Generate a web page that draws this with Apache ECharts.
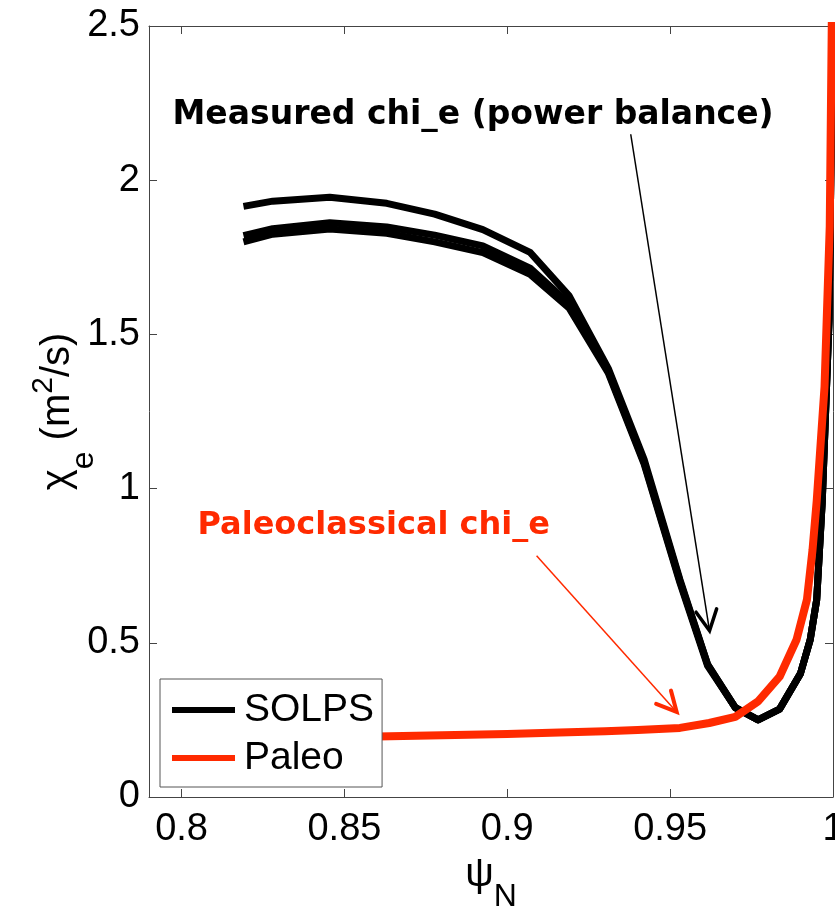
<!DOCTYPE html>
<html><head><meta charset="utf-8">
<script src="https://cdn.jsdelivr.net/npm/echarts@6/dist/echarts.min.js"></script>
<style>html,body{margin:0;padding:0;background:#fff}#c{width:835px;height:912px}</style>
</head><body><div id="c"></div>
<script>
// ---- data ----
const xTicks = [0.8, 0.85, 0.9, 0.95, 1];
const yTicks = [0, 0.5, 1, 1.5, 2, 2.5];
const solpsX = [0.819, 0.828, 0.8455, 0.863, 0.8777, 0.8925, 0.907, 0.919, 0.931, 0.942, 0.953, 0.9615, 0.970, 0.977, 0.9836, 0.990, 0.993, 0.995, 0.9967, 0.9988, 1.0];
const solpsA = [1.915, 1.932, 1.945, 1.925, 1.89, 1.84, 1.766, 1.625, 1.39, 1.095, 0.705, 0.43, 0.29, 0.25, 0.285, 0.40, 0.51, 0.64, 0.96, 1.55, 2.6];
const solpsB = [1.82, 1.843, 1.862, 1.848, 1.822, 1.787, 1.715, 1.60, 1.38, 1.085, 0.70, 0.43, 0.29, 0.25, 0.285, 0.40, 0.51, 0.64, 0.96, 1.55, 2.6];
const solpsC = [1.80, 1.825, 1.842, 1.828, 1.80, 1.765, 1.695, 1.585, 1.375, 1.08, 0.695, 0.425, 0.29, 0.25, 0.285, 0.40, 0.51, 0.64, 0.96, 1.55, 2.6];
const paleoX = [0.82, 0.84, 0.86, 0.88, 0.90, 0.916, 0.93, 0.94, 0.953, 0.962, 0.970, 0.977, 0.9836, 0.9888, 0.992, 0.9937, 0.995, 0.9974, 0.999, 1.0];
const paleoY = [0.19, 0.193, 0.196, 0.200, 0.204, 0.209, 0.213, 0.217, 0.224, 0.24, 0.26, 0.31, 0.39, 0.51, 0.64, 0.80, 0.96, 1.33, 1.85, 2.9];
// annotations: [x1, y1, x2, y2] in data units
const arrowMeasured = [0.9379, 2.149, 0.9621, 0.539];
const arrowPaleo = [0.909, 0.782, 0.952, 0.276];
const textMeasured = {label: 'Measured chi_e (power balance)', x: 0.8895, y: 2.21};
const textPaleo = {label: 'Paleoclassical chi_e', x: 0.859, y: 0.88};

const zip = (xs, ys) => xs.map((x, i) => [x, ys[i]]);
const AX = '#444';
const FONT = "'Liberation Sans', Arial, Helvetica, sans-serif";
const ANN_FONT = "'DejaVu Sans', Verdana, sans-serif";
const RED = '#ff2a00';

const chart = echarts.init(document.getElementById('c'), null, {renderer: 'canvas'});

function lineSeries(name, data, color, width) {
  return {
    name, type: 'line', data, symbol: 'none', showSymbol: false,
    itemStyle: {color}, lineStyle: {color, width, join: 'round'},
    emphasis: {disabled: true}, animation: false, clip: true
  };
}

function arrowRender(color, shaftW, headW, headLen, halfAng) {
  return function (params, api) {
    const p1 = api.coord([api.value(0), api.value(1)]);
    const p2 = api.coord([api.value(2), api.value(3)]);
    const ang = Math.atan2(p1[1] - p2[1], p1[0] - p2[0]);
    const a1 = [p2[0] + headLen * Math.cos(ang + halfAng), p2[1] + headLen * Math.sin(ang + halfAng)];
    const a2 = [p2[0] + headLen * Math.cos(ang - halfAng), p2[1] + headLen * Math.sin(ang - halfAng)];
    return {
      type: 'group',
      children: [
        {type: 'line', shape: {x1: p1[0], y1: p1[1], x2: p2[0], y2: p2[1]}, style: {stroke: color, lineWidth: shaftW}},
        {type: 'polyline', shape: {points: [a1, p2, a2]}, style: {stroke: color, lineWidth: headW, fill: null, lineJoin: 'miter', lineCap: 'round'}}
      ]
    };
  };
}

function textRender(color, size) {
  return function (params, api) {
    const p = api.coord([api.value(0), api.value(1)]);
    return {
      type: 'text',
      style: {text: params.dataIndex === 0 ? api.value(2) : '', x: p[0], y: p[1], fill: color,
        fontSize: size, fontWeight: 'bold', fontFamily: ANN_FONT, align: 'center', verticalAlign: 'middle'}
    };
  };
}

const option = {
  backgroundColor: '#fff',
  animation: false,
  grid: {left: 149, right: 2, top: 26, bottom: 115, containLabel: false, outerBoundsMode: 'none'},
  legend: {
    orient: 'vertical', left: 160, top: 679,
    padding: [9, 8, 7, 12], itemWidth: 63, itemHeight: 6, itemGap: 4,
    backgroundColor: '#fff', borderColor: '#555', borderWidth: 1, borderRadius: 0,
    selectedMode: false,
    textStyle: {fontFamily: FONT, fontSize: 39, color: '#000', lineHeight: 44, padding: [0, 0, 0, 4]},
    data: [
      {name: 'SOLPS', icon: 'rect', itemStyle: {color: '#000'}},
      {name: 'Paleo', icon: 'rect', itemStyle: {color: RED}}
    ]
  },
  xAxis: [{
    type: 'value', min: 0.79, max: 1, position: 'bottom',
    axisLine: {show: true, onZero: false, lineStyle: {color: AX, width: 1}},
    axisTick: {show: true, inside: true, length: 8, customValues: xTicks, lineStyle: {color: AX}},
    axisLabel: {show: true, customValues: xTicks, margin: 14, color: '#000', fontFamily: FONT, fontSize: 38,
      formatter: v => String(+(+v).toFixed(2))},
    splitLine: {show: false},
    name: '{a|ψ}{b|N}', nameLocation: 'middle', nameGap: 58, nameMoveOverlap: false,
    nameTextStyle: {rich: {
      a: {fontFamily: FONT, fontSize: 40, lineHeight: 40, verticalAlign: 'top', color: '#000'},
      b: {fontFamily: FONT, fontSize: 32, lineHeight: 32, padding: [26, 0, 0, 0], verticalAlign: 'top', color: '#000'}
    }}
  }, {
    type: 'value', min: 0.79, max: 1, position: 'top',
    axisLine: {show: true, onZero: false, lineStyle: {color: AX, width: 1}},
    axisTick: {show: true, inside: true, length: 8, customValues: xTicks, lineStyle: {color: AX}},
    axisLabel: {show: false}, splitLine: {show: false}
  }],
  yAxis: [{
    type: 'value', min: 0, max: 2.5, interval: 0.5, position: 'left',
    axisLine: {show: true, onZero: false, lineStyle: {color: AX, width: 1}},
    axisTick: {show: true, inside: true, length: 8, lineStyle: {color: AX}},
    axisLabel: {show: true, margin: 9, color: '#000', fontFamily: FONT, fontSize: 38,
      formatter: v => String(+(+v).toFixed(2))},
    splitLine: {show: false},
    name: '{a|χ}{b|e}{a| (m}{c|2}{a|/s)}', nameLocation: 'middle', nameRotate: 90, nameGap: 72, nameMoveOverlap: false,
    nameTextStyle: {rich: {
      a: {fontFamily: FONT, fontSize: 40, lineHeight: 48, padding: [9, 0, 0, 0], verticalAlign: 'top', color: '#000'},
      b: {fontFamily: FONT, fontSize: 32, lineHeight: 32, padding: [39, 0, 0, 0], verticalAlign: 'top', color: '#000'},
      c: {fontFamily: FONT, fontSize: 30, lineHeight: 30, padding: [0, 0, 0, 0], verticalAlign: 'top', color: '#000'}
    }}
  }, {
    type: 'value', min: 0, max: 2.5, interval: 0.5, position: 'right',
    axisLine: {show: true, onZero: false, lineStyle: {color: AX, width: 1}},
    axisTick: {show: true, inside: true, length: 8, lineStyle: {color: AX}},
    axisLabel: {show: false}, splitLine: {show: false}
  }],
  series: [
    lineSeries('SOLPS', zip(solpsX, solpsA), '#000', 7),
    lineSeries('SOLPS', zip(solpsX, solpsB), '#000', 7),
    lineSeries('SOLPS', zip(solpsX, solpsC), '#000', 7),
    lineSeries('Paleo', zip(paleoX, paleoY), RED, 8),
    {type: 'custom', name: 'arrowM', renderItem: arrowRender('#000', 1.5, 3.5, 23, 0.47),
      data: [arrowMeasured], encode: {x: [0, 2], y: [1, 3]}, clip: false, z: 5, silent: true},
    {type: 'custom', name: 'arrowP', renderItem: arrowRender(RED, 1.5, 4, 22, 0.47),
      data: [arrowPaleo], encode: {x: [0, 2], y: [1, 3]}, clip: false, z: 5, silent: true},
    {type: 'custom', name: 'textM', renderItem: textRender('#000', 33),
      data: [[textMeasured.x, textMeasured.y, textMeasured.label]], dimensions: ['x', 'y', {name: 'label', type: 'ordinal'}],
      encode: {x: 0, y: 1}, clip: false, z: 6, silent: true},
    {type: 'custom', name: 'textP', renderItem: textRender(RED, 32),
      data: [[textPaleo.x, textPaleo.y, textPaleo.label]], dimensions: ['x', 'y', {name: 'label', type: 'ordinal'}],
      encode: {x: 0, y: 1}, clip: false, z: 6, silent: true}
  ]
};
chart.setOption(option);
</script></body></html>
